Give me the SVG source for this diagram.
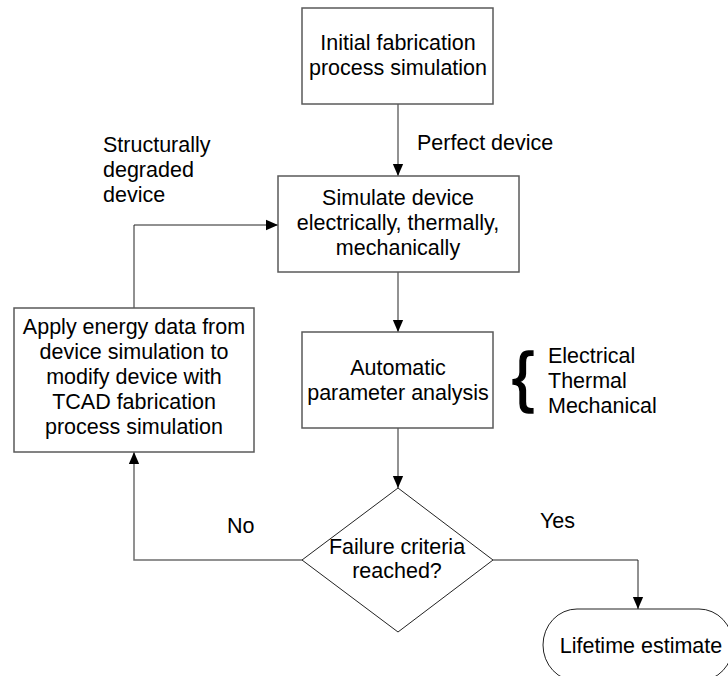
<svg xmlns="http://www.w3.org/2000/svg" width="728" height="676" viewBox="0 0 728 676">
  <style>
    text { font-family: "Liberation Sans", Arial, sans-serif; font-size: 21.5px; fill: #000; }
    .c { text-anchor: middle; }
    .box { fill: #fff; stroke: #5a5a5a; stroke-width: 1.5; }
    .shape { fill: #fff; stroke: #222; stroke-width: 1; }
    .link { fill: none; stroke: #6e6e6e; stroke-width: 1.5; }
    .thin { fill: none; stroke: #222; stroke-width: 1; }
    .brace { font-size: 66px; stroke: #000; stroke-width: 1.4; }
  </style>
  <defs>
    <marker id="arrow" markerWidth="12" markerHeight="14" refX="14" refY="6" orient="auto" markerUnits="userSpaceOnUse" viewBox="0 0 14 12">
      <path d="M0,0 L14,6 L0,12 Z" fill="#000"/>
    </marker>
  </defs>
  <rect width="728" height="676" fill="#fff"/>

  <!-- connectors -->
  <g id="connectors">
    <line class="link" x1="398" y1="104" x2="398" y2="176" marker-end="url(#arrow)"/>
    <line class="link" x1="398" y1="272" x2="398" y2="332" marker-end="url(#arrow)"/>
    <line class="link" x1="398" y1="428" x2="398" y2="488" marker-end="url(#arrow)"/>
    <polyline class="thin" points="493,560 638,560 638,609" marker-end="url(#arrow)"/>
    <polyline class="link" points="302,560 134,560 134,452" marker-end="url(#arrow)"/>
    <polyline class="thin" points="134,308 134,225 278,225" marker-end="url(#arrow)"/>
  </g>

  <!-- process steps -->
  <g id="initial-fabrication">
    <rect class="box" x="302" y="8" width="191" height="96"/>
    <text class="c" x="398" y="50">Initial fabrication</text>
    <text class="c" x="398" y="75">process simulation</text>
  </g>

  <g id="simulate-device">
    <rect class="box" x="278" y="176" width="241" height="96"/>
    <text class="c" x="398" y="205">Simulate device</text>
    <text class="c" x="398" y="230">electrically, thermally,</text>
    <text class="c" x="398" y="255">mechanically</text>
  </g>

  <g id="parameter-analysis">
    <rect class="box" x="302" y="332" width="191" height="96"/>
    <text class="c" x="398" y="375">Automatic</text>
    <text class="c" x="398" y="400">parameter analysis</text>
  </g>

  <g id="analysis-domains">
    <text class="brace" x="512" y="399">{</text>
    <text x="548" y="363">Electrical</text>
    <text x="548" y="388">Thermal</text>
    <text x="548" y="413">Mechanical</text>
  </g>

  <g id="modify-device">
    <rect class="box" x="14" y="308" width="240" height="144"/>
    <text class="c" x="134" y="334">Apply energy data from</text>
    <text class="c" x="134" y="359">device simulation to</text>
    <text class="c" x="134" y="384">modify device with</text>
    <text class="c" x="134" y="409">TCAD fabrication</text>
    <text class="c" x="134" y="434">process simulation</text>
  </g>

  <g id="failure-decision">
    <polygon class="shape" points="398,488 493,560 398,632 302,560"/>
    <text class="c" x="397" y="554">Failure criteria</text>
    <text class="c" x="397" y="578">reached?</text>
  </g>

  <g id="lifetime-estimate">
    <rect class="shape" x="543" y="609" width="190" height="72" rx="34" ry="36"/>
    <text class="c" x="641" y="653">Lifetime estimate</text>
  </g>

  <!-- edge labels -->
  <g id="labels">
    <text x="417" y="150">Perfect device</text>
    <text x="103" y="152">Structurally</text>
    <text x="103" y="177">degraded</text>
    <text x="103" y="202">device</text>
    <text x="540" y="528">Yes</text>
    <text x="227" y="533">No</text>
  </g>
</svg>
